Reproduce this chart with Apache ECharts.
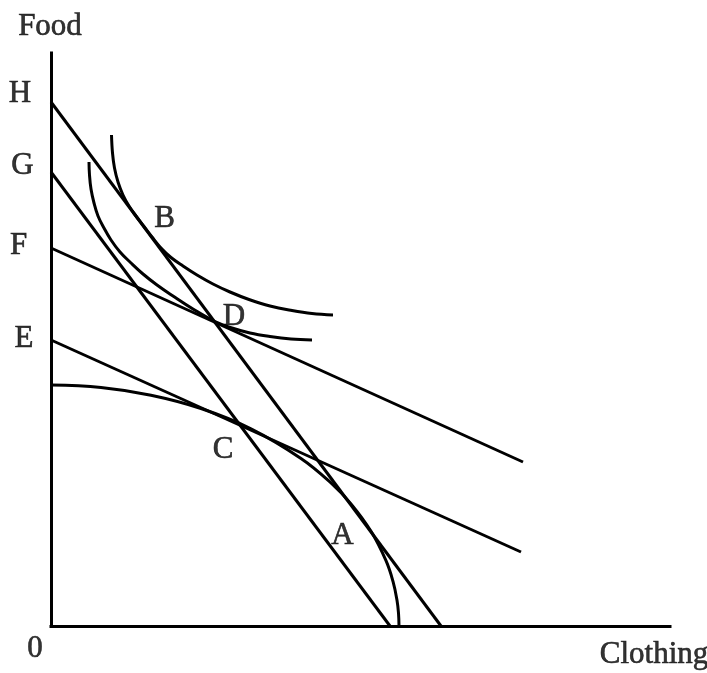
<!DOCTYPE html>
<html>
<head>
<meta charset="utf-8">
<script src="https://cdn.jsdelivr.net/npm/echarts@6/dist/echarts.min.js"></script>
<style>
html,body{margin:0;padding:0;background:#fff;}
#chart{width:707px;height:673px;}
</style>
</head>
<body>
<div id="chart"></div>
<script>
// Budget lines (Clothing, Food)
const hLine = [[0, 524], [390, 0]];
const gLine = [[0, 454], [339, 0]];
const fLine = [[0, 378], [472, 164]];
const eLine = [[0, 286], [470, 74]];
// Production possibility frontier
const ppf = [[0, 241], [50, 238.5], [100, 230.8], [150, 217.5], [200, 197.2], [250, 167.6],
  [280, 143.1], [300, 122.1], [320, 94.7], [335, 65.3], [342, 44.6], [346, 25.8], [347.5, 12.9], [348, 0]];
// Indifference curves
const icUpper = [[60.5, 491], [61.5, 473], [63.5, 458], [67, 444], [72, 431], [78, 420], [85, 410],
  [93, 399.5], [101, 389], [110, 378], [120, 368.5], [132, 360], [146, 351], [162, 342], [179, 334],
  [198, 326.5], [219, 320], [241, 315.5], [261, 312.5], [282, 311]];
const icLower = [[38, 464], [38.5, 451], [40, 437], [43, 423], [47, 410], [53, 398], [60, 386],
  [69, 374], [80, 363], [92, 352], [106, 341], [122, 330], [142, 317], [164, 304.5], [181, 298],
  [199, 293], [219, 289.5], [240, 287], [261, 286]];
// Named points
const pointNames = ['H', 'G', 'F', 'E', '0', 'B', 'D', 'C', 'A'];
const pointValues = [hLine[0], gLine[0], fLine[0], eLine[0], [0, 0], [99, 391], [164, 304], [189, 201], [309, 109]];
const axisTitles = ['Food', 'Clothing'];

const xMax = 619, yMax = 573;
const FONT = 'Liberation Serif';
const labelOffsets = {
  H: [-31, -8], G: [-28.5, -6], F: [-32.5, -2], E: [-27, -1.5], '0': [-16, 22.5],
  B: [14.5, -16.5], D: [19, -5], C: [-17, 24.5], A: [-17.5, 19]
};

function curve(data, smooth) {
  return {
    type: 'line', data: data, symbol: 'none', smooth: smooth,
    lineStyle: { color: '#000', width: 3 }, silent: true, z: 3
  };
}

const labelData = pointNames.map((n, i) => ({
  value: pointValues[i],
  name: n,
  label: { offset: labelOffsets[n] }
}));
labelData.push({ value: [0, yMax], name: axisTitles[0], label: { offset: [-1, -26.5] } });
labelData.push({ value: [xMax, 0], name: axisTitles[1], label: { offset: [-16, 29] } });

const chart = echarts.init(document.getElementById('chart'), null, { renderer: 'canvas' });
chart.setOption({
  animation: false,
  backgroundColor: '#fff',
  grid: { left: 51, right: 37, top: 53, bottom: 47 },
  xAxis: {
    type: 'value', min: 0, max: xMax,
    axisLine: { show: true, onZero: false, lineStyle: { color: '#000', width: 3, cap: 'square' } },
    axisTick: { show: false }, axisLabel: { show: false }, splitLine: { show: false }
  },
  yAxis: {
    type: 'value', min: 0, max: yMax,
    axisLine: { show: true, onZero: false, lineStyle: { color: '#000', width: 3, cap: 'square' } },
    axisTick: { show: false }, axisLabel: { show: false }, splitLine: { show: false }
  },
  series: [
    curve(hLine, false),
    curve(gLine, false),
    curve(fLine, false),
    curve(eLine, false),
    curve(ppf, 0.4),
    curve(icUpper, 0.4),
    curve(icLower, 0.4),
    {
      type: 'scatter', symbol: 'circle', symbolSize: 1, silent: true, z: 5, clip: false,
      itemStyle: { color: 'rgba(0,0,0,0)' },
      data: labelData,
      label: {
        show: true, position: 'inside', formatter: p => p.name,
        fontFamily: FONT, fontSize: 31, color: '#000',
        textBorderColor: '#000', textBorderWidth: 0.6,
        align: 'center', verticalAlign: 'middle'
      }
    }
  ]
});
</script>
</body>
</html>
